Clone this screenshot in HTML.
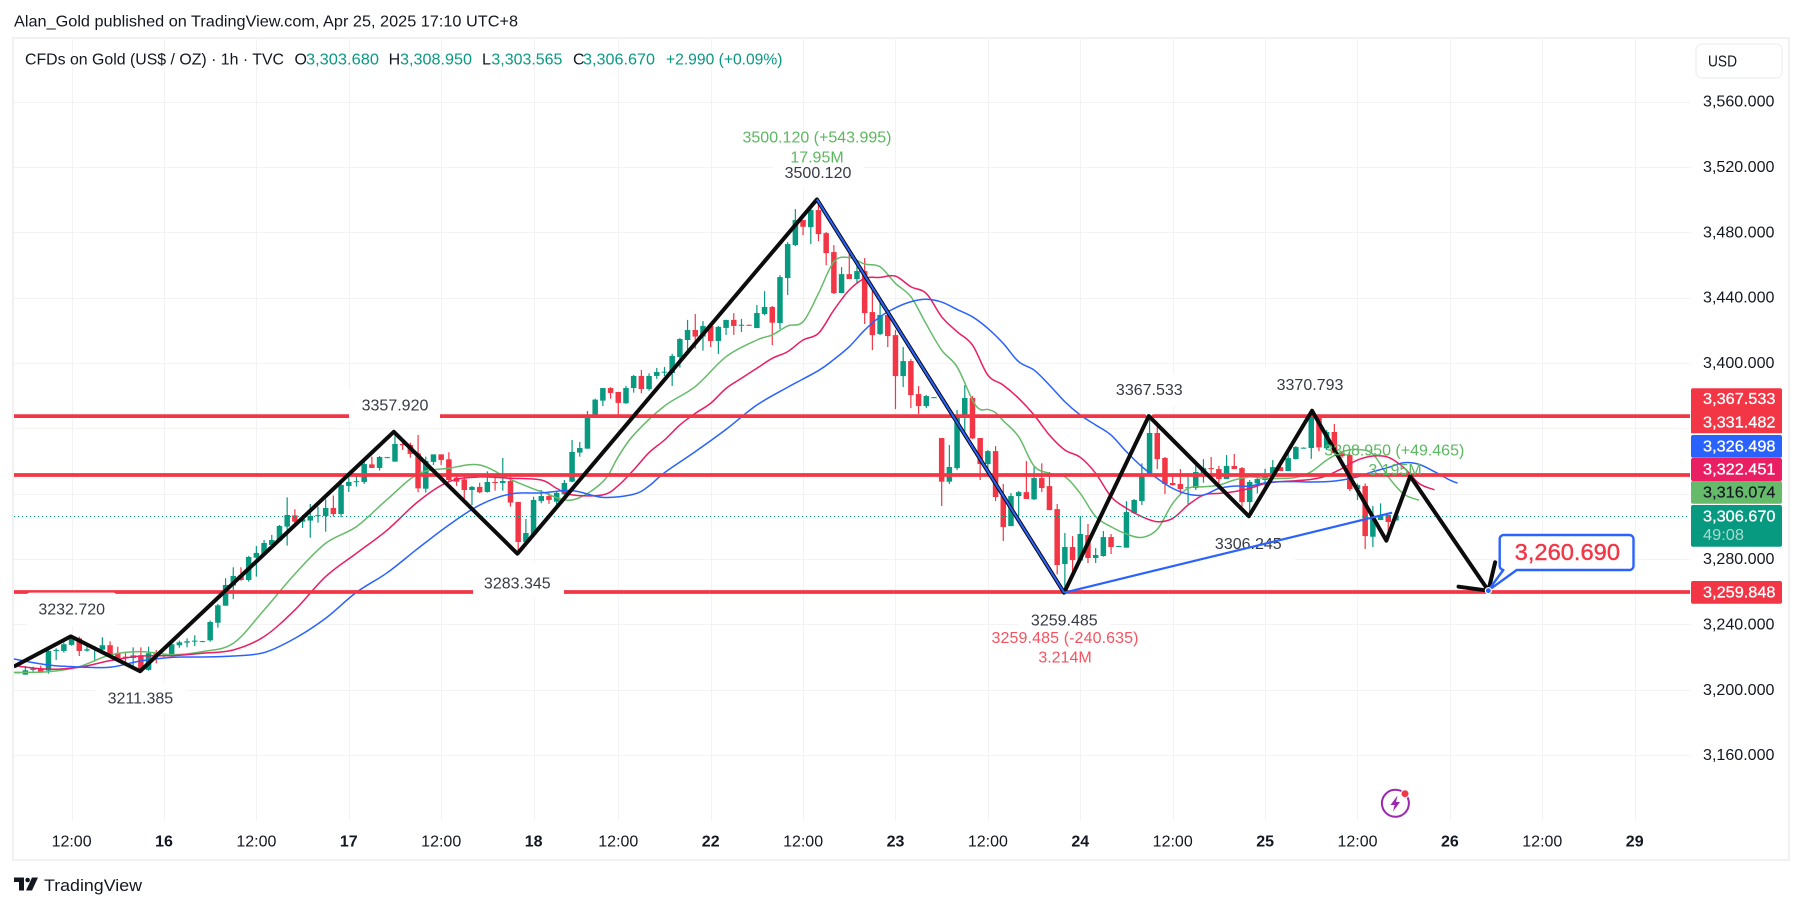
<!DOCTYPE html>
<html lang="en">
<head>
<meta charset="utf-8">
<title>CFDs on Gold (US$ / OZ) 1h chart</title>
<style>
html,body{margin:0;padding:0;background:#fff;width:1803px;height:908px;overflow:hidden}
svg{display:block;font-family:"Liberation Sans",Arial,sans-serif}
.lbl{font-size:16px;fill:#363a45;text-anchor:middle}
.grn{font-size:16px;fill:#5cb860;text-anchor:middle}
.rdl{font-size:16px;fill:#f6525f;text-anchor:middle}
.ptick{font-size:16px;fill:#131722}
.badge{font-size:16px;fill:#fff;stroke:#fff;stroke-width:.3}
.tv{fill:#089981;font-size:16px}
.blk{fill:#131722;font-size:16px}
</style>
</head>
<body>
<svg id="chart" xmlns="http://www.w3.org/2000/svg" width="1803" height="908" viewBox="0 0 1803 908">
  <defs><clipPath id="plot-clip"><rect x="14" y="38" width="1676" height="782"/></clipPath></defs>
  <rect width="1803" height="908" fill="#fff"/>
  <text x="14" y="26.5" class="blk" textLength="504" lengthAdjust="spacingAndGlyphs">Alan_Gold published on TradingView.com, Apr 25, 2025 17:10 UTC+8</text>

  <g id="grid"></g>
  <g clip-path="url(#plot-clip)">
    <g id="candles"></g>
    <g id="mas"></g>
    <line id="close-line" stroke="#089981" stroke-width="1" stroke-dasharray="1 3"/>
    <g id="levels"></g>

    <g fill="#fff">
      <rect x="349" y="390" width="91" height="31"/>
      <rect x="26" y="592.6" width="91" height="34" rx="4"/>
      <rect x="95" y="683" width="91" height="30"/>
      <rect x="473" y="563" width="91" height="34"/>
      <rect x="773" y="157" width="91" height="30"/>
      <rect x="1018" y="605" width="92" height="30"/>
      <rect x="1103" y="374" width="92" height="32"/>
      <polygon points="1144,413 1154,413 1149,418"/>
      <rect x="1264" y="369" width="92" height="30"/>
      <rect x="1203" y="528" width="92" height="32"/>
    </g>
    <g>
      <text x="395" y="410.7" class="lbl">3357.920</text>
      <text x="71.7" y="614.7" class="lbl">3232.720</text>
      <text x="140.4" y="703.7" class="lbl">3211.385</text>
      <text x="517.3" y="588.4" class="lbl">3283.345</text>
      <text x="818" y="178" class="lbl">3500.120</text>
      <text x="1064.3" y="625.7" class="lbl">3259.485</text>
      <text x="1149.3" y="395" class="lbl">3367.533</text>
      <text x="1310" y="390" class="lbl">3370.793</text>
      <text x="1248.3" y="549" class="lbl">3306.245</text>
    </g>

    <g id="drawings"></g>

    <g>
      <text x="817" y="142.4" class="grn" textLength="149">3500.120 (+543.995)</text>
      <text x="817" y="162.4" class="grn">17.95M</text>
      <text x="1065" y="643" class="rdl" textLength="147">3259.485 (-240.635)</text>
      <text x="1065" y="662.4" class="rdl">3.214M</text>
      <text x="1394.3" y="455.7" class="grn" textLength="140">3308.950 (+49.465)</text>
      <text x="1395" y="475" class="grn">3.195M</text>
    </g>

    <g>
      <path d="M1504,535 H1629.5 a4,4 0 0 1 4,4 V566 a4,4 0 0 1 -4,4 H1516.7 L1488,590.7 L1503.3,570 a4,4 0 0 1 -3.6,-4 V539 a4,4 0 0 1 4.3,-4 Z" fill="#fff" stroke="#2962ff" stroke-width="2.4" stroke-linejoin="round"/>
      <text x="1514.7" y="559.8" font-size="23" fill="#f23645" stroke="#f23645" stroke-width=".4" textLength="105.3" lengthAdjust="spacingAndGlyphs">3,260.690</text>
    </g>
    <circle id="target-dot" r="3" fill="#2962ff" stroke="#fff" stroke-width="1.2"/>

    <g>
      <ellipse cx="1395.4" cy="803.3" rx="13.5" ry="13.5" fill="none" stroke="#9c27b0" stroke-width="2"/>
      <polygon points="1397.5,795.5 1390.5,805 1394.6,805 1393,811.5 1400,802 1396,802" fill="#9c27b0"/>
      <circle cx="1405" cy="793.7" r="4.6" fill="#fff"/>
      <circle cx="1405" cy="793.7" r="3.5" fill="#f23645"/>
    </g>
  </g>

  <rect x="13" y="38" width="1776" height="822" fill="none" stroke="#f1f1f2" stroke-width="2"/>

  <g>
    <text x="25" y="64.5" class="blk" textLength="259" lengthAdjust="spacingAndGlyphs">CFDs on Gold (US$ / OZ) · 1h · TVC</text>
    <text x="294.5" y="64.5" class="blk">O</text>
    <text x="306" y="64.5" class="tv" textLength="73" lengthAdjust="spacingAndGlyphs">3,303.680</text>
    <text x="388.6" y="64.5" class="blk">H</text>
    <text x="400" y="64.5" class="tv" textLength="72" lengthAdjust="spacingAndGlyphs">3,308.950</text>
    <text x="482" y="64.5" class="blk">L</text>
    <text x="491.4" y="64.5" class="tv" textLength="71" lengthAdjust="spacingAndGlyphs">3,303.565</text>
    <text x="573" y="64.5" class="blk">C</text>
    <text x="583" y="64.5" class="tv" textLength="72" lengthAdjust="spacingAndGlyphs">3,306.670</text>
    <text x="666" y="64.5" class="tv" textLength="116.5" lengthAdjust="spacingAndGlyphs">+2.990 (+0.09%)</text>
  </g>

  <g>
    <rect x="1696" y="44" width="86" height="34" rx="6" fill="#fff" stroke="#f1f2f4" stroke-width="1.5"/>
    <text x="1708" y="66.5" class="blk" textLength="29" lengthAdjust="spacingAndGlyphs">USD</text>
  </g>

  <g id="price-ticks"></g>
  <g id="time-ticks"></g>

  <g>
    <path d="M1693,388.3 H1780 a2,2 0 0 1 2,2 V433.3 H1691 V390.3 a2,2 0 0 1 2,-2 Z" fill="#f23645"/>
    <rect x="1691" y="435" width="91" height="22.7" rx="2" fill="#2962ff"/>
    <rect x="1691" y="458" width="91" height="23" rx="2" fill="#e91e63"/>
    <rect x="1691" y="481" width="91" height="22.7" rx="2" fill="#66bb6a"/>
    <rect x="1691" y="505" width="91" height="41.7" rx="2" fill="#089981"/>
    <rect x="1691" y="581" width="91" height="22.7" rx="2" fill="#f23645"/>
    <text x="1703" y="404" class="badge" textLength="72.5" lengthAdjust="spacingAndGlyphs">3,367.533</text>
    <text x="1703" y="427.5" class="badge" textLength="72.5" lengthAdjust="spacingAndGlyphs">3,331.482</text>
    <text x="1703" y="451.7" class="badge" textLength="72.5" lengthAdjust="spacingAndGlyphs">3,326.498</text>
    <text x="1703" y="474.7" class="badge" textLength="72.5" lengthAdjust="spacingAndGlyphs">3,322.451</text>
    <text x="1703" y="497.5" font-size="16" fill="#131722" stroke="#131722" stroke-width=".2" textLength="72.5" lengthAdjust="spacingAndGlyphs">3,316.074</text>
    <text x="1703" y="521.5" class="badge" textLength="72.5" lengthAdjust="spacingAndGlyphs">3,306.670</text>
    <text x="1703" y="539.8" font-size="16" fill="#a9dccf" textLength="41" lengthAdjust="spacingAndGlyphs">49:08</text>
    <text x="1703" y="597.5" class="badge" textLength="72.5" lengthAdjust="spacingAndGlyphs">3,259.848</text>
  </g>

  <g>
    <path d="M14,877.5 H24 V890.5 H19 V882 H14 Z" fill="#131722"/>
    <circle cx="27.6" cy="880" r="2.3" fill="#131722"/>
    <polygon points="32,877.5 38,877.5 32,890.5 26,890.5" fill="#131722"/>
    <text x="44" y="891" font-size="17" fill="#131722" textLength="98" lengthAdjust="spacingAndGlyphs">TradingView</text>
  </g>
</svg>
<script>
const opens=[3210.1,3209.3,3212.2,3213.0,3211.8,3223.8,3223.8,3227.5,3231.5,3224.0,
3225.2,3224.6,3227.3,3222.4,3220.3,3219.5,3221.1,3212.2,3222.4,3221.0,
3220.7,3227.3,3228.9,3229.7,3229.6,3230.3,3241.1,3251.5,3263.8,3270.1,
3267.2,3280.9,3283.2,3288.7,3291.3,3299.9,3306.8,3302.9,3303.6,3306.6,
3306.4,3311.3,3307.6,3324.8,3327.3,3327.2,3338.0,3335.8,3342.2,3339.7,
3350.5,3349.9,3344.8,3323.1,3339.5,3344.1,3341.1,3329.9,3328.8,3322.3,
3324.2,3321.1,3327.2,3326.6,3327.8,3315.0,3290.5,3295.2,3315.6,3318.6,
3315.2,3319.7,3327.4,3345.2,3347.6,3367.2,3377.0,3384.7,3382.3,3375.4,
3384.7,3392.1,3384.1,3392.1,3394.4,3393.9,3403.7,3414.1,3420.2,3416.2,
3422.7,3413.5,3421.5,3426.4,3423.2,3423.4,3421.4,3430.0,3434.3,3424.5,
3452.0,3472.2,3487.5,3483.2,3493.6,3479.5,3467.9,3442.8,3454.4,3451.4,
3456.3,3431.2,3417.7,3429.4,3417.1,3392.0,3401.2,3381.0,3373.7,3378.9,
3354.1,3327.4,3335.7,3367.0,3378.6,3354.1,3338.2,3346.1,3318.6,3300.2,
3318.6,3321.0,3316.6,3329.6,3324.7,3310.6,3277.0,3287.4,3279.2,3294.7,
3280.7,3281.9,3293.5,3287.8,3287.0,3308.2,3315.5,3330.9,3357.2,3341.9,
3326.6,3326.0,3323.5,3323.5,3332.7,3335.7,3335.1,3329.0,3337.0,3335.7,
3314.9,3326.3,3328.4,3330.8,3336.3,3333.9,3341.2,3347.9,3348.0,3366.9,
3347.8,3357.8,3344.6,3343.7,3322.9,3324.7,3293.7,3303.9,3307.0,3303.68];
const highs=[3211.1,3214.6,3214.2,3214.8,3226.0,3225.4,3228.9,3232.7,3232.6,3228.5,
3226.8,3232.2,3229.7,3226.4,3223.4,3226.0,3226.0,3226.4,3224.4,3222.0,
3230.5,3230.1,3231.5,3233.4,3230.0,3242.4,3252.6,3268.3,3275.0,3275.0,
3281.9,3288.0,3291.7,3294.8,3300.9,3317.8,3310.5,3307.0,3313.8,3312.1,
3316.6,3318.9,3328.4,3332.9,3332.5,3340.7,3342.7,3343.1,3342.6,3357.9,
3353.3,3351.3,3356.0,3342.7,3344.1,3344.1,3345.4,3332.5,3331.5,3324.8,
3326.8,3333.7,3330.5,3341.9,3330.5,3315.0,3304.6,3318.2,3322.3,3320.9,
3321.3,3328.4,3352.9,3351.7,3370.7,3378.2,3384.7,3385.2,3382.3,3386.0,
3392.7,3395.8,3393.7,3397.0,3397.6,3405.6,3415.3,3426.4,3430.0,3425.7,
3423.9,3422.7,3426.4,3430.6,3427.0,3423.6,3435.5,3444.0,3434.9,3453.8,
3474.0,3494.2,3487.5,3494.2,3500.1,3480.2,3472.2,3458.7,3466.7,3460.6,
3464.2,3444.7,3438.5,3429.4,3420.2,3409.8,3402.4,3385.9,3380.4,3379.3,
3354.1,3349.8,3371.2,3386.5,3379.8,3354.1,3346.8,3349.2,3326.0,3320.4,
3321.7,3340.0,3336.6,3338.6,3333.3,3313.7,3296.0,3294.1,3306.4,3301.5,
3286.8,3297.2,3295.4,3288.2,3315.5,3316.8,3338.6,3367.5,3363.9,3342.5,
3331.5,3335.1,3330.4,3338.8,3341.2,3342.5,3337.0,3343.7,3344.3,3336.4,
3328.4,3330.8,3335.3,3340.6,3340.6,3346.7,3349.2,3348.4,3370.8,3366.9,
3359.0,3362.7,3346.0,3344.7,3326.3,3326.3,3312.5,3314.1,3307.0,3308.95];
const lows=[3210.1,3209.3,3211.1,3211.1,3209.9,3218.3,3222.8,3227.0,3220.7,3223.4,
3217.3,3224.0,3220.3,3217.3,3216.2,3214.2,3211.4,3211.8,3216.2,3220.0,
3220.3,3225.8,3226.0,3226.8,3229.4,3229.5,3238.1,3251.5,3255.6,3266.8,
3266.2,3269.3,3282.5,3287.2,3290.7,3288.3,3300.3,3299.1,3293.1,3302.3,
3296.8,3306.0,3305.6,3321.1,3324.4,3326.0,3335.8,3334.2,3342.0,3339.5,
3346.8,3342.1,3320.9,3320.7,3337.6,3337.6,3327.4,3324.8,3315.2,3313.1,
3320.3,3320.7,3321.9,3321.9,3312.1,3283.3,3289.7,3294.8,3314.2,3313.8,
3311.1,3318.2,3327.0,3342.7,3347.6,3367.2,3373.7,3378.2,3368.2,3375.0,
3381.9,3381.5,3383.1,3390.3,3392.1,3386.0,3397.2,3407.0,3408.8,3407.6,
3409.8,3405.6,3417.2,3417.2,3419.0,3422.9,3421.4,3429.2,3411.0,3420.8,
3441.6,3471.6,3478.3,3472.8,3474.6,3459.9,3442.2,3442.8,3451.4,3448.3,
3423.9,3407.9,3417.1,3409.8,3371.8,3385.3,3372.4,3368.8,3372.4,3378.7,
3312.5,3326.0,3334.5,3354.9,3353.5,3328.4,3332.1,3315.5,3291.1,3300.2,
3306.4,3316.8,3316.2,3321.0,3310.0,3270.7,3259.5,3268.2,3279.2,3277.6,
3277.6,3281.5,3283.1,3287.6,3287.0,3307.6,3313.1,3330.9,3335.1,3319.8,
3325.0,3319.2,3313.7,3322.3,3326.8,3329.0,3326.0,3329.0,3335.1,3312.1,
3306.2,3320.2,3322.3,3330.0,3333.9,3333.9,3341.0,3347.7,3341.4,3346.1,
3346.7,3344.3,3342.0,3321.6,3316.1,3286.2,3287.4,3303.9,3291.7,3303.565];
const closes=[3210.9,3212.0,3213.0,3211.1,3223.8,3224.4,3227.9,3231.7,3223.8,3224.8,
3225.8,3227.3,3221.3,3219.3,3219.9,3221.1,3212.2,3222.4,3220.7,3221.2,
3227.9,3229.1,3229.7,3230.1,3229.8,3241.5,3251.7,3264.2,3269.7,3267.2,
3281.3,3283.8,3289.9,3291.7,3300.3,3307.0,3302.9,3304.4,3306.4,3306.9,
3311.3,3307.6,3325.4,3327.2,3327.7,3338.2,3335.8,3342.5,3342.4,3350.5,
3349.7,3344.4,3323.3,3340.1,3344.1,3340.7,3328.4,3327.4,3322.3,3324.2,
3320.9,3327.2,3326.8,3327.8,3314.6,3290.5,3296.0,3316.2,3318.6,3316.2,
3320.5,3326.6,3345.6,3348.0,3368.2,3377.6,3384.7,3381.7,3375.6,3384.7,
3392.1,3384.1,3392.1,3394.5,3394.7,3404.3,3414.7,3420.2,3416.2,3422.7,
3413.5,3422.1,3426.4,3422.7,3423.4,3423.1,3430.6,3434.3,3424.7,3452.6,
3472.8,3487.5,3483.4,3493.6,3478.9,3467.3,3442.8,3454.4,3451.4,3456.3,
3430.6,3417.1,3429.4,3416.5,3392.0,3401.2,3380.4,3373.7,3379.8,3379.1,
3327.4,3336.4,3368.2,3378.6,3353.9,3338.2,3346.1,3318.0,3299.6,3318.6,
3321.0,3316.8,3329.6,3323.5,3310.0,3276.4,3287.4,3279.4,3295.4,3280.7,
3282.5,3293.5,3287.4,3288.0,3308.8,3316.2,3331.5,3357.2,3341.2,3326.0,
3325.3,3322.9,3324.0,3333.3,3335.7,3335.3,3329.0,3337.0,3335.1,3314.9,
3327.2,3329.0,3331.4,3336.3,3333.9,3341.8,3348.6,3348.2,3366.9,3348.4,
3357.8,3344.9,3343.0,3322.9,3325.3,3294.1,3304.9,3306.3,3302.7,3306.67];

const greenBars=[-0.5,4,8,12,16,20,24,28,32,36,40,44,48,52,56,60,64,68,72,76,78,80,84,88,92,96,98,100,102,104,106,108,110,112,114,116,118,120,122,124,125,126,127,128,130,132,134,136,138,140,142,144,146,148,150,152,154,156,158,160,162,164,166,168,170,172,174,176,178,180,182];
const greenValues=[3210.7,3211.1,3214.2,3221.3,3223.4,3221.5,3223.4,3228.5,3248.9,3270.9,3289.7,3299.9,3316.6,3332.1,3335.6,3337.6,3328.8,3321.3,3316.2,3327.4,3342.7,3356.0,3373.7,3385.6,3403.9,3414.1,3417.2,3422.7,3425.3,3442.6,3462.0,3464.6,3460.6,3458.9,3448.7,3440.6,3423.8,3407.9,3397.7,3377.3,3371.6,3371.6,3369.6,3364.7,3354.9,3337.0,3332.5,3330.4,3320.2,3306.0,3299.8,3295.4,3293.3,3298.2,3314.1,3323.3,3324.3,3325.3,3328.4,3330.4,3329.4,3329.4,3330.0,3333.5,3340.6,3345.7,3347.1,3344.3,3330.4,3319.8,3316.07];
const crimsonBars=[-0.5,4,8,12,16,20,24,28,32,36,40,44,48,52,56,60,64,68,70,72,76,78,80,82,84,86,88,90,92,94,96,98,100,102,104,106,108,110,112,114,116,118,120,122,124,126,128,130,132,134,136,138,140,142,144,146,148,150,152,154,156,158,160,162,164,166,168,170,172,174,176,178,180,182,184];
const crimsonValues=[3214.8,3212.6,3213.8,3217.9,3220.7,3220.9,3222.4,3224.4,3232.6,3248.9,3269.3,3283.6,3297.8,3315.2,3327.4,3330.3,3329.5,3328.4,3323.3,3319.3,3319.3,3325.0,3334.6,3345.2,3352.9,3362.1,3369.2,3375.4,3384.5,3390.7,3396.8,3402.9,3407.0,3414.1,3418.2,3432.4,3444.7,3451.8,3452.4,3453.2,3446.7,3442.6,3428.3,3419.2,3411.0,3392.6,3386.5,3378.4,3368.2,3355.9,3346.8,3342.3,3332.5,3318.2,3311.1,3306.0,3302.9,3304.9,3313.1,3319.2,3320.2,3321.3,3323.3,3326.3,3327.4,3328.0,3328.8,3331.0,3335.5,3340.6,3343.1,3342.3,3336.1,3326.3,3322.45];
const blueBars=[-0.5,4,8,12,16,20,24,28,32,36,40,44,48,52,56,60,64,68,72,76,80,82,84,88,92,96,100,104,106,108,110,112,114,116,118,120,122,124,126,128,130,132,134,136,138,140,142,144,146,148,150,152,154,156,158,160,162,164,166,168,170,172,174,176,178,180,182,184,186,187];
const blueValues=[3218.9,3215.2,3214.0,3213.8,3217.7,3219.9,3220.1,3220.7,3222.8,3231.5,3243.8,3259.7,3271.7,3286.6,3300.9,3313.1,3319.9,3320.5,3321.9,3317.8,3319.7,3324.8,3332.9,3345.8,3359.4,3374.3,3385.2,3395.4,3402.2,3410.0,3420.2,3428.3,3433.8,3437.5,3439.0,3437.3,3432.8,3428.3,3421.2,3412.0,3400.8,3395.7,3386.5,3376.3,3368.2,3362.1,3355.9,3345.7,3336.6,3329.4,3323.3,3319.8,3319.2,3323.3,3324.7,3324.7,3326.7,3327.4,3327.4,3327.2,3327.4,3328.4,3330.4,3333.5,3336.1,3339.0,3338.0,3333.5,3328.4,3326.5];

const priceTickValues=[3560,3520,3480,3440,3400,3360,3320,3280,3240,3200,3160];
const priceTickLabels=["3,560.000","3,520.000","3,480.000","3,440.000","3,400.000","","","3,280.000","3,240.000","3,200.000","3,160.000"];
const timeTickBars=[7,19,31,43,55,67,78,90,102,114,126,138,150,162,174,186,198,210];
const timeTickLabels=["12:00","16","12:00","17","12:00","18","12:00","22","12:00","23","12:00","24","12:00","25","12:00","26","12:00","29"];

const levelPrices=[3367.533,3331.482,3259.848];
const zigzagBars=[-0.5,6.9,15.9,48.85,64.9,103.8,135.9,146.9,159.9,168.1,177.75,180.85,191];
const zigzagPrices=[3214.2,3232.72,3211.385,3357.92,3283.345,3500.12,3259.485,3367.533,3306.245,3370.793,3291.3,3330.8,3260.69];
const channelBars=[103.8,135.9];
const channelPrices=[3500.12,3259.485];
const trendBars=[135.9,178.5];
const trendPrices=[3259.485,3308.4];

const SVG_NS='http://www.w3.org/2000/svg';
const plotLeft=14, plotRight=1690, plotTop=38, plotBottom=820.7;
function xAt(bar){return 17.67+7.7*bar;}
function yAt(price){return 101.6+(3560-price)*1.634;}
function make(tag,parent,attrs){
  const el=document.createElementNS(SVG_NS,tag);
  for(const k in attrs){el.setAttribute(k,attrs[k]);}
  parent.appendChild(el);
  return el;
}
function pointsFrom(bars,values){
  return bars.map((b,i)=>xAt(b).toFixed(2)+','+yAt(values[i]).toFixed(2)).join(' ');
}
function smoothPath(bars,values){
  const px=bars.map(xAt), py=values.map(yAt);
  let d='M'+px[0].toFixed(2)+','+py[0].toFixed(2);
  for(let i=0;i<px.length-1;i++){
    const a=Math.max(0,i-1), b=Math.min(px.length-1,i+2);
    const c1x=px[i]+(px[i+1]-px[a])/6, c1y=py[i]+(py[i+1]-py[a])/6;
    const c2x=px[i+1]-(px[b]-px[i])/6, c2y=py[i+1]-(py[b]-py[i])/6;
    d+=' C'+c1x.toFixed(2)+','+c1y.toFixed(2)+' '+c2x.toFixed(2)+','+c2y.toFixed(2)+' '+px[i+1].toFixed(2)+','+py[i+1].toFixed(2);
  }
  return d;
}

const gridLayer=document.getElementById('grid');
priceTickValues.forEach(function(p){
  const yy=Math.round(yAt(p))+0.5;
  const gl=make('line',gridLayer,{x1:plotLeft,x2:plotRight,y1:yy,y2:yy,stroke:'#f3f3f4','stroke-width':1});
  
  
});
timeTickBars.forEach(function(b){
  const xx=Math.round(xAt(b))+0.5;
  const gl=make('line',gridLayer,{x1:xx,x2:xx,y1:plotTop,y2:plotBottom,stroke:'#f3f3f4','stroke-width':1});
  
  
});

const priceTickLayer=document.getElementById('price-ticks');
priceTickValues.forEach(function(p,i){
  if(!priceTickLabels[i]){return;}
  const t=make('text',priceTickLayer,{x:1703,y:(yAt(p)+5).toFixed(1),'class':'ptick',textLength:71.5,lengthAdjust:'spacingAndGlyphs'});
  t.textContent=priceTickLabels[i];
  
  
});

const timeTickLayer=document.getElementById('time-ticks');
timeTickBars.forEach(function(b,i){
  const isDate=timeTickLabels[i].indexOf(':')<0;
  const t=make('text',timeTickLayer,{x:xAt(b).toFixed(1),y:846.6,'text-anchor':'middle','font-size':16,fill:'#131722','font-weight':isDate?'bold':'normal'});
  t.textContent=timeTickLabels[i];
  
  
});

const candleLayer=document.getElementById('candles');
opens.forEach(function(o,i){
  const c=closes[i], up=c>=o, col=up?'#089981':'#f23645';
  const cx=xAt(i);
  const top=yAt(Math.max(o,c)), bot=yAt(Math.min(o,c));
  const wick=make('rect',candleLayer,{x:(cx-0.6).toFixed(2),y:yAt(highs[i]).toFixed(2),width:1.2,height:Math.max(1,yAt(lows[i])-yAt(highs[i])).toFixed(2),fill:col});
  
  
  const body=make('rect',candleLayer,{x:(cx-2.75).toFixed(2),y:top.toFixed(2),width:5.5,height:Math.max(1,bot-top).toFixed(2),fill:col});
  
  
});

const maLayer=document.getElementById('mas');
const greenLine=make('path',maLayer,{d:smoothPath(greenBars,greenValues),fill:'none',stroke:'#66bb6a','stroke-width':1.5,'stroke-linejoin':'round'});


const crimsonLine=make('path',maLayer,{d:smoothPath(crimsonBars,crimsonValues),fill:'none',stroke:'#e91e63','stroke-width':1.5,'stroke-linejoin':'round'});


const blueLine=make('path',maLayer,{d:smoothPath(blueBars,blueValues),fill:'none',stroke:'#2962ff','stroke-width':1.5,'stroke-linejoin':'round'});



const closeLine=document.getElementById('close-line');
const lastY=Math.round(yAt(closes[closes.length-1]))+0.5;
closeLine.setAttribute('x1',plotLeft);
closeLine.setAttribute('x2',plotRight);
closeLine.setAttribute('y1',lastY);
closeLine.setAttribute('y2',lastY);

const levelLayer=document.getElementById('levels');
levelPrices.forEach(function(p){
  const yy=yAt(p);
  const l=make('line',levelLayer,{x1:plotLeft,x2:plotRight,y1:yy.toFixed(1),y2:yy.toFixed(1),stroke:'#f23645','stroke-width':3.8});
  
  
});

const drawLayer=document.getElementById('drawings');
const zigzag=make('polyline',drawLayer,{points:pointsFrom(zigzagBars,zigzagPrices),fill:'none',stroke:'#0c0c0c','stroke-width':4,'stroke-linejoin':'round'});


const channel=make('polyline',drawLayer,{points:pointsFrom(channelBars,channelPrices),fill:'none',stroke:'#2962ff','stroke-width':2});


const trend=make('polyline',drawLayer,{points:pointsFrom(trendBars,trendPrices),fill:'none',stroke:'#2962ff','stroke-width':2.2});



const tipX=xAt(zigzagBars[zigzagBars.length-1]), tipY=yAt(zigzagPrices[zigzagPrices.length-1]);
const headLeft=make('line',drawLayer,{x1:tipX,y1:tipY,x2:tipX-29.8,y2:tipY-4,stroke:'#0c0c0c','stroke-width':4,'stroke-linecap':'round'});


const headRight=make('line',drawLayer,{x1:tipX,y1:tipY,x2:tipX+6.8,y2:tipY-28.4,stroke:'#0c0c0c','stroke-width':4,'stroke-linecap':'round'});



const dot=document.getElementById('target-dot');
dot.setAttribute('cx',tipX);
dot.setAttribute('cy',tipY);
</script>
</body>
</html>
